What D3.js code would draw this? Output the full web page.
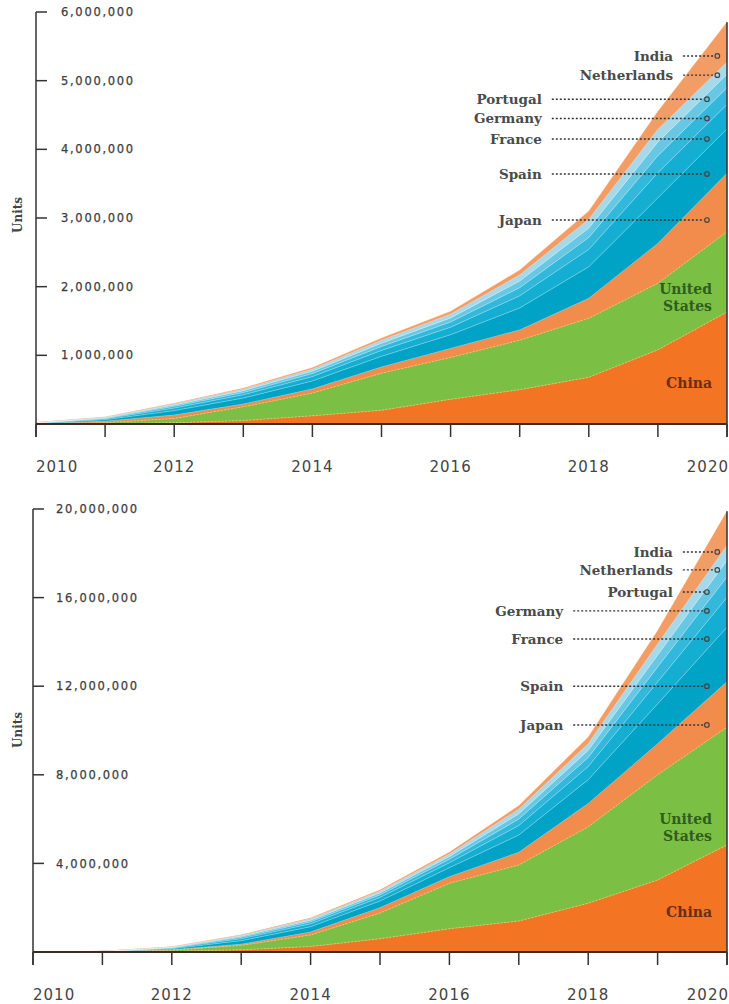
<!DOCTYPE html>
<html><head><meta charset="utf-8">
<script src="https://cdn.jsdelivr.net/npm/d3@7"></script>
<style>body{margin:0;background:#fff}svg{display:block}</style>
</head><body><svg id="c" width="729" height="1004"></svg>
<script>
// ---------- shared ----------
const years = [2010, 2011, 2012, 2013, 2014, 2015, 2016, 2017, 2018, 2019, 2020];
const yearLabels = ["2010", "2012", "2014", "2016", "2018", "2020"];
const countries = ["China", "United States", "Japan", "Spain", "France", "Germany", "Portugal", "Netherlands", "India"];

// ---------- chart 1 (units, millions) ----------
const c1_China       = [0.002, 0.005, 0.02, 0.05, 0.12, 0.20, 0.36, 0.50, 0.68, 1.08, 1.63];
const c1_US          = [0.002, 0.015, 0.06, 0.20, 0.33, 0.54, 0.61, 0.72, 0.86, 0.97, 1.17];
const c1_Japan       = [0.002, 0.020, 0.05, 0.04, 0.06, 0.09, 0.13, 0.15, 0.29, 0.58, 0.85];
const c1_Spain       = [0.005, 0.022, 0.065, 0.088, 0.116, 0.156, 0.20, 0.32, 0.46, 0.664, 0.648];
const c1_France      = [0.003, 0.013, 0.037, 0.048, 0.064, 0.086, 0.11, 0.176, 0.253, 0.365, 0.356];
const c1_Germany     = [0.002, 0.009, 0.025, 0.033, 0.044, 0.058, 0.075, 0.12, 0.172, 0.249, 0.243];
const c1_Portugal    = [0.002, 0.007, 0.020, 0.027, 0.035, 0.047, 0.06, 0.096, 0.138, 0.199, 0.195];
const c1_Netherlands = [0.002, 0.007, 0.018, 0.024, 0.031, 0.043, 0.055, 0.088, 0.127, 0.183, 0.178];
const c1_India       = [0.000, 0.002, 0.005, 0.01, 0.02, 0.03, 0.04, 0.07, 0.12, 0.26, 0.58];
const c1_ticks = [1, 2, 3, 4, 5, 6];
const c1_tickLabels = ["1,000,000", "2,000,000", "3,000,000", "4,000,000", "5,000,000", "6,000,000"];
const c1_max = 6;
const c1_labelValues = [5.36, 5.08, 4.73, 4.45, 4.15, 3.64, 2.97];

// ---------- chart 2 (units, millions) ----------
const c2_China       = [0, 0.005, 0.03, 0.10, 0.25, 0.60, 1.05, 1.40, 2.20, 3.25, 4.83];
const c2_US          = [0, 0.005, 0.05, 0.20, 0.52, 1.16, 2.05, 2.53, 3.45, 4.75, 5.32];
const c2_Japan       = [0, 0.005, 0.02, 0.05, 0.13, 0.24, 0.30, 0.57, 1.05, 1.40, 2.05];
const c2_Spain       = [0, 0.006, 0.05, 0.162, 0.24, 0.30, 0.408, 0.78, 1.08, 1.80, 2.46];
const c2_France      = [0, 0.003, 0.028, 0.089, 0.132, 0.165, 0.224, 0.429, 0.594, 0.99, 1.353];
const c2_Germany     = [0, 0.002, 0.019, 0.061, 0.09, 0.113, 0.153, 0.293, 0.405, 0.675, 0.923];
const c2_Portugal    = [0, 0.002, 0.015, 0.049, 0.072, 0.09, 0.122, 0.234, 0.324, 0.54, 0.738];
const c2_Netherlands = [0, 0.002, 0.013, 0.044, 0.066, 0.082, 0.113, 0.214, 0.297, 0.495, 0.676];
const c2_India       = [0, 0, 0.005, 0.015, 0.03, 0.05, 0.08, 0.15, 0.30, 0.60, 1.55];
const c2_ticks = [4, 8, 12, 16, 20];
const c2_tickLabels = ["4,000,000", "8,000,000", "12,000,000", "16,000,000", "20,000,000"];
const c2_max = 20;
const c2_labelValues = [18.06, 17.25, 16.25, 15.4, 14.13, 12.0, 10.25];

// ---------- annotations ----------
const labelNames = ["India", "Netherlands", "Portugal", "Germany", "France", "Spain", "Japan"];

// ---------- styling / layout (not data) ----------
const colors = ["#f37423", "#7cbf45", "#f28c4c", "#00a2c5", "#14aed2", "#32b8da", "#68c7e3", "#a6daeb", "#f39d66"];

const svg = d3.select("#c");

function drawChart(o) {
  const g = svg.append("g");
  const x = d3.scaleLinear().domain([2010, 2020]).range(o.xr);
  const y = d3.scaleLinear().domain([0, o.max]).range(o.yr);
  const rows = years.map((yr, i) => {
    const r = { year: yr };
    countries.forEach((c, k) => r[c] = o.series[k][i]);
    return r;
  });
  const stack = d3.stack().keys(countries)(rows);
  const area = d3.area().x(d => x(d.data.year)).y0(d => y(d[0])).y1(d => y(d[1]));
  g.selectAll("path.layer").data(stack).join("path")
    .attr("class", "layer").attr("d", area)
    .attr("fill", (d, i) => colors[i]).attr("stroke", (d, i) => colors[i]).attr("stroke-width", 0.4);
  const line = d3.line().x(d => x(d.data.year)).y(d => y(d[1]));
  g.selectAll("path.sep").data(stack.slice(0, -1)).join("path")
    .attr("class", "sep").attr("d", line).attr("fill", "none")
    .attr("stroke", (d, i) => i < 2 ? "#f3d27a" : "rgba(255,255,255,0.45)")
    .attr("stroke-width", 0.7).attr("stroke-dasharray", (d, i) => i < 2 ? "2,1.5" : null);

  const y0 = y(0), tickLen = 13, x0 = x(2010);
  g.append("line").attr("x1", x0).attr("x2", x(2020)).attr("y1", y0).attr("y2", y0)
    .attr("stroke", "#3a2a22").attr("stroke-width", 2);
  g.append("line").attr("x1", x0).attr("x2", x0).attr("y1", y(o.max)).attr("y2", y0 + tickLen)
    .attr("stroke", "#333").attr("stroke-width", 1.5);
  o.ticks.forEach((v, i) => {
    g.append("line").attr("x1", x0).attr("x2", x0 + 11).attr("y1", y(v)).attr("y2", y(v))
      .attr("stroke", "#333").attr("stroke-width", 1.5);
    g.append("text").attr("x", x0 + o.labelDx).attr("y", y(v)).attr("dy", "0.36em")
      .attr("font-family", "DejaVu Sans").attr("font-size", 11.5).attr("letter-spacing", 1.7)
      .attr("fill", "#3d3d3d").attr("stroke", "#3d3d3d").attr("stroke-width", 0.25)
      .text(o.tickLabels[i]);
  });
  years.forEach(yr => {
    g.append("line").attr("x1", x(yr)).attr("x2", x(yr)).attr("y1", y0).attr("y2", y0 + tickLen)
      .attr("stroke", "#333").attr("stroke-width", 1.5);
  });
  const topLayer = stack[stack.length - 1];
  g.append("line").attr("x1", x(2020)).attr("x2", x(2020))
    .attr("y1", y(topLayer[topLayer.length - 1][1])).attr("y2", y0 + tickLen)
    .attr("stroke", "#333").attr("stroke-width", 1.5);
  yearLabels.forEach(t => {
    const yr = +t;
    const anchor = yr === 2010 ? "start" : yr === 2020 ? "end" : "middle";
    g.append("text").attr("x", yr === 2020 ? x(yr) + 2 : x(yr)).attr("y", o.yearY)
      .attr("text-anchor", anchor).attr("font-family", "DejaVu Sans").attr("font-size", 15)
      .attr("letter-spacing", 1).attr("fill", "#444").text(t);
  });
  g.append("text").attr("transform", `translate(${o.unitsX},${o.unitsY}) rotate(-90)`)
    .attr("text-anchor", "middle").attr("dy", "0.35em")
    .attr("font-family", "DejaVu Serif").attr("font-weight", "bold").attr("font-size", 12)
    .attr("fill", "#444").text("Units");
  labelNames.forEach((name, i) => {
    const ly = y(o.labelValues[i]);
    const tx = x(o.textYears[i]);
    const cx = x(o.dotYears[i]);
    g.append("text").attr("x", tx).attr("y", ly).attr("dy", "0.35em").attr("text-anchor", "end")
      .attr("font-family", "DejaVu Serif").attr("font-weight", "bold").attr("font-size", 13.5)
      .attr("fill", "#4a4a4a").text(name);
    g.append("line").attr("x1", tx + 10).attr("x2", cx - 3).attr("y1", ly).attr("y2", ly)
      .attr("stroke", "#333").attr("stroke-width", 1.4).attr("stroke-dasharray", "2,2");
    g.append("circle").attr("cx", cx).attr("cy", ly).attr("r", 2.3)
      .attr("fill", "none").attr("stroke", "#444").attr("stroke-width", 1.2);
  });
  const lx = x(2020) - 15;
  [["United", o.usY[0]], ["States", o.usY[1]]].forEach(([t, yy]) => {
    g.append("text").attr("x", lx).attr("y", y(yy)).attr("dy", "0.35em").attr("text-anchor", "end")
      .attr("font-family", "DejaVu Serif").attr("font-weight", "bold").attr("font-size", 14)
      .attr("fill", "#2f5e1c").text(t);
  });
  g.append("text").attr("x", lx).attr("y", y(o.chinaY)).attr("dy", "0.35em").attr("text-anchor", "end")
    .attr("font-family", "DejaVu Serif").attr("font-weight", "bold").attr("font-size", 14)
    .attr("fill", "#6e2d10").text("China");
}

drawChart({
  series: [c1_China, c1_US, c1_Japan, c1_Spain, c1_France, c1_Germany, c1_Portugal, c1_Netherlands, c1_India],
  max: c1_max, ticks: c1_ticks, tickLabels: c1_tickLabels, labelValues: c1_labelValues,
  xr: [36, 727], yr: [424, 12], labelDx: 25, yearY: 472, unitsX: 18, unitsY: 215,
  textYears: [2019.22, 2019.22, 2017.32, 2017.32, 2017.32, 2017.32, 2017.32],
  dotYears: [2019.86, 2019.86, 2019.71, 2019.71, 2019.71, 2019.71, 2019.71],
  usY: [1.96, 1.71], chinaY: 0.6
});
drawChart({
  series: [c2_China, c2_US, c2_Japan, c2_Spain, c2_France, c2_Germany, c2_Portugal, c2_Netherlands, c2_India],
  max: c2_max, ticks: c2_ticks, tickLabels: c2_tickLabels, labelValues: c2_labelValues,
  xr: [33, 727], yr: [952, 509], labelDx: 23, yearY: 1000, unitsX: 18, unitsY: 730,
  textYears: [2019.22, 2019.22, 2019.22, 2017.64, 2017.64, 2017.64, 2017.64],
  dotYears: [2019.86, 2019.86, 2019.71, 2019.71, 2019.71, 2019.71, 2019.71],
  usY: [6.0, 5.24], chinaY: 1.8
});
</script></body></html>
